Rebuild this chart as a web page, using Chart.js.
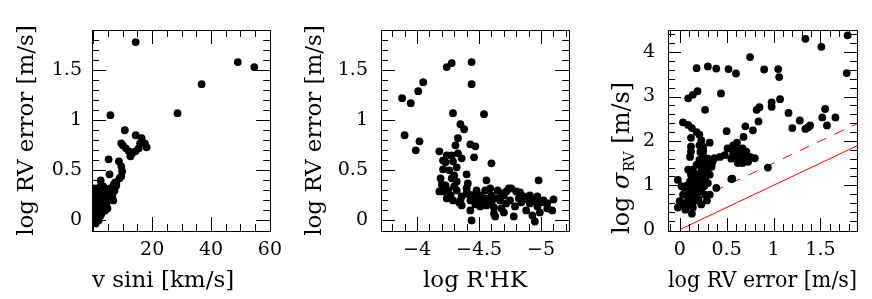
<!DOCTYPE html>
<html>
<head>
<meta charset="utf-8">
<script src="https://cdn.jsdelivr.net/npm/chart.js@4.4.1/dist/chart.umd.min.js"></script>
<style>
  body { margin: 0; background: #fff; }
  #wrap { position: relative; width: 872px; height: 299px; background: #fff; }
  canvas { position: absolute; top: 0; }
</style>
</head>
<body>
<div id="wrap">
  <canvas id="vsiniChart" width="290" height="299" style="left:0px"></canvas>
  <canvas id="rhkChart" width="290" height="299" style="left:290px"></canvas>
  <canvas id="sigmaChart" width="292" height="299" style="left:580px"></canvas>
</div>
<script>
// panel 1: v sini vs log RV error
const vsini = [14.4, 49.1, 54.7, 36.8, 28.6, 5.8, 10.7, 14.4, 16.4, 17.5, 18.1, 15.9, 15.4, 14.3, 13.2, 12.6, 12.1, 11.1, 10.0, 9.5,
  5.2, 8.7, 9.5, 9.8, 9.5, 8.9, 5.5, 2.5, 7.8,
  0.3, 0.5, 0.2, 0.6, 0.3, 0.5, 0.2, 0.7, 0.4, 0.8, 1.2, 1.5, 1.0, 1.4, 1.0, 1.5, 2.0, 2.2, 2.0, 2.5,
  2.8, 3.0, 3.2, 3.5, 3.8, 4.0, 4.3, 4.6, 4.8, 5.0, 5.5, 5.7, 6.0, 6.3, 6.8, 6.8, 7.2, 7.8, 1.8, 2.5,
  3.0, 1.0, 0.8, 1.6, 2.4, 4.0, 3.4, 7.4,
  0.1, 0.2, 0.4, 0.6, 0.9, 1.2, 1.1, 1.7, 2.3, 2.7, 3.3, 3.6, 4.2, 4.5, 5.2, 5.8, 6.5, 7.0, 1.3, 0.6,
  2.0, 3.0, 0.2, 0.1];
const rvErr1 = [1.78, 1.58, 1.53, 1.36, 1.07, 1.05, 0.90, 0.85, 0.82, 0.77, 0.73, 0.77, 0.72, 0.69, 0.67, 0.64, 0.69, 0.72, 0.75, 0.77,
  0.61, 0.59, 0.54, 0.49, 0.44, 0.42, 0.46, 0.40, 0.37,
  0.32, 0.28, 0.24, 0.20, 0.16, 0.12, 0.08, 0.04, 0.00, -0.03, 0.02, 0.06, 0.10, 0.14, 0.20, 0.25, 0.10, 0.18, 0.28, 0.22,
  0.12, 0.30, 0.20, 0.26, 0.15, 0.30, 0.22, 0.30, 0.12, 0.20, 0.27, 0.32, 0.22, 0.30, 0.34, 0.20, 0.30, 0.35, 0.00, 0.05,
  0.08, 0.30, 0.15, 0.32, 0.34, 0.10, 0.34, 0.38,
  0.00, -0.02, 0.20, 0.30, 0.25, 0.30, 0.05, 0.18, 0.12, 0.28, 0.25, 0.18, 0.26, 0.18, 0.30, 0.24, 0.26, 0.36, 0.18, 0.08,
  0.20, 0.15, 0.15, 0.28];

// panel 2: log R'HK vs log RV error
const logRhk = [-3.88, -3.95, -4.01, -4.05, -3.90, -3.99, -4.02, -4.24, -4.28, -4.44, -4.44, -4.29, -4.54, -4.35, -4.38, -4.33,
  -4.43, -4.47, -4.46, -4.60, -4.18, -4.98, -4.31, -4.24, -4.21, -4.28, -4.33, -4.29, -4.21, -4.32, -4.40, -4.19, -4.28,
  -4.41, -4.56, -4.23, -4.32, -4.21, -4.27, -4.32, -4.36, -4.40, -4.43, -4.47, -4.51, -4.55, -4.59, -4.60, -4.64, -4.68,
  -4.72, -4.76, -4.80, -4.86, -4.91, -4.97, -5.02, -5.10, -4.29, -4.43, -4.44, -4.62, -4.68, -4.78, -4.72, -4.79, -4.88,
  -4.93, -4.95, -4.91, -4.97, -5.09, -5.05, -4.56, -4.51, -4.36, -4.40, -4.58, -4.74, -4.67, -4.18, -4.24, -4.34, -4.47,
  -4.53, -4.62, -4.70, -4.84, -4.99, -5.00, -4.83, -4.26, -4.30, -4.36, -4.23, -4.42, -4.48, -4.65, -4.95,
  -4.25, -4.35, -4.45, -4.50, -4.55, -4.60, -4.70, -4.75, -4.82, -4.90, -4.97, -5.05, -4.63, -4.20, -4.30];
const rvErr2 = [1.22, 1.17, 1.29, 1.38, 0.85, 0.70, 0.79, 1.53, 1.57, 1.58, 1.36, 1.07, 1.06, 0.96, 0.91, 0.82,
  0.76, 0.74, 0.63, 0.57, 0.69, 0.40, 0.75, 0.65, 0.60, 0.65, 0.67, 0.59, 0.51, 0.53, 0.46, 0.42, 0.42,
  0.37, 0.40, 0.35, 0.39, 0.29, 0.25, 0.30, 0.24, 0.27, 0.20, 0.23, 0.25, 0.30, 0.32, 0.25, 0.22, 0.27,
  0.29, 0.32, 0.29, 0.24, 0.25, 0.24, 0.20, 0.21, 0.20, 0.10, 0.00, 0.07, 0.12, 0.04, 0.17, 0.14, 0.10,
  0.05, -0.01, 0.17, 0.14, 0.10, 0.17, 0.15, 0.14, 0.15, 0.32, 0.19, 0.32, 0.20, 0.29, 0.22, 0.18, 0.16,
  0.20, 0.13, 0.08, 0.18, 0.08, 0.18, 0.28, 0.50, 0.45, 0.62, 0.58, 0.26, 0.30, 0.30, 0.20,
  0.30, 0.20, 0.25, 0.18, 0.22, 0.18, 0.25, 0.20, 0.22, 0.20, 0.18, 0.12, 0.04, 0.36, 0.34];

// panel 3: log RV error vs log sigma_RV
const rvErr3 = [0.18, 0.30, 0.39, 0.52, 0.60, 0.75, 0.90, 1.05, 1.06, 1.34, 1.51, 1.79, 1.78, 0.09, 0.14, 0.19, 0.44, 0.27,
  0.82, 0.85, 0.98, 0.98, 1.07, 1.16, 1.28, 1.20, 1.34, 1.37, 1.39, 1.52, 1.55, 1.57, 1.66, 0.84, 0.78, 0.70, 0.50,
  0.94, 0.56, 0.32, 0.68, 0.61, 0.57, 0.39, 0.13, -0.02,
  0.035, 0.09, 0.13, 0.18, 0.21, 0.12, 0.12, 0.12, 0.11, 0.25, 0.32, 0.21, 0.23,
  0.37, 0.43, 0.48, 0.51, 0.57, 0.62, 0.67, 0.71, 0.75, 0.73, 0.67, 0.62, 0.60, 0.63, 0.80, 0.55, 0.66, 0.70,
  0.02, 0.05, 0.035, 0.00, -0.02, 0.07, 0.09, 0.12, 0.18, 0.21, 0.23, 0.23, 0.16, 0.11, 0.27, 0.04, 0.14, 0.19,
  0.14, 0.18, 0.21, 0.25, 0.28, 0.30, 0.23, 0.20, 0.27, 0.32, 0.16, 0.34, 0.35, 0.23, 0.12, 0.09,
  0.15, 0.19, 0.26, 0.30, 0.17, 0.24, 0.10, 0.06, 0.29, 0.20, 0.25, 0.14,
  0.55, 0.58, 0.64, 0.69, 0.72, 0.65, 0.60, 0.05, 0.10, 0.15, 0.08, 0.20, 0.25, 0.18, 0.28, 0.22, 0.30];
const sigmaRv = [3.64, 3.68, 3.63, 3.62, 3.52, 3.89, 3.61, 3.62, 3.44, 4.30, 4.12, 4.38, 3.53, 2.96, 3.04, 3.12, 3.07, 2.70,
  2.70, 2.76, 2.87, 2.77, 2.94, 2.63, 2.46, 2.29, 2.27, 2.31, 2.35, 2.53, 2.72, 2.35, 2.53, 2.44, 2.24, 2.33, 2.22,
  1.40, 1.15, 0.79, 2.09, 1.96, 1.90, 0.94, 0.36, 1.12,
  2.42, 2.36, 2.29, 2.20, 2.14, 2.07, 1.87, 1.76, 1.64, 1.87, 1.96, 1.90, 2.01,
  1.61, 1.64, 1.68, 1.83, 1.72, 1.79, 1.83, 1.76, 1.64, 1.53, 1.50, 1.50, 1.64, 1.60, 1.61, 1.14, 1.70, 1.55,
  0.98, 0.94, 0.79, 0.64, 0.50, 0.57, 0.72, 0.87, 0.94, 1.05, 0.87, 0.57, 0.72, 1.09, 0.79, 0.55, 0.62, 0.66,
  1.35, 1.46, 1.57, 1.68, 1.53, 1.38, 1.31, 1.20, 1.16, 1.24, 1.24, 1.42, 1.53, 1.46, 1.24, 1.35,
  1.02, 1.10, 0.98, 1.05, 1.18, 1.40, 0.80, 0.45, 0.66, 0.68, 1.78, 0.50,
  1.60, 1.75, 1.72, 1.66, 1.58, 1.55, 1.68, 0.60, 0.55, 0.80, 1.00, 0.85, 1.00, 1.25, 1.30, 1.75, 1.60];

// reference lines in panel 3 (one-to-one and offset line)
const refLineX = [0, 1.9];
const refLineY = [0, 1.9];
const refDashY = [0.5, 2.4];

// tick labels
const p1xTicks = [20, 40, 60];
const p1yTicks = [0, 0.5, 1, 1.5];
const p2xTicks = [-4, -4.5, -5];
const p2yTicks = [0, 0.5, 1, 1.5];
const p3xTicks = [0, 0.5, 1, 1.5];
const p3yTicks = [0, 1, 2, 3, 4];

const FONT = "'DejaVu Serif', 'Liberation Serif', serif";

function pts(xs, ys) {
  return xs.map((x, i) => ({x: x, y: ys[i]}));
}

function fmt(v) {
  return String(v).replace('-', '\u2212');
}

// draws the box and inward ticks on all four sides
const frameTicks = {
  id: 'frameTicks',
  afterDraw(chart, args, opts) {
    const ctx = chart.ctx;
    const a = chart.chartArea;
    ctx.save();
    ctx.strokeStyle = '#000';
    ctx.lineWidth = 1;
    ctx.strokeRect(Math.round(a.left) + 0.5, Math.round(a.top) + 0.5,
      Math.round(a.right - a.left), Math.round(a.bottom - a.top));
    ctx.beginPath();
    ['x', 'y'].forEach(axis => {
      const sc = chart.scales[axis];
      const step = opts[axis + 'Minor'];
      const major = opts[axis + 'Major'];
      const lo = Math.min(sc.min, sc.max), hi = Math.max(sc.min, sc.max);
      for (let k = Math.ceil(lo / step - 1e-9); k * step <= hi + 1e-9; k++) {
        const v = k * step;
        const isMajor = Math.abs(v / major - Math.round(v / major)) < 1e-6;
        const len = isMajor ? opts.majorLen : opts.minorLen;
        const p = Math.round(sc.getPixelForValue(v)) + 0.5;
        if (axis === 'x') {
          if (p <= a.left + 1 || p >= a.right - 1) continue;
          ctx.moveTo(p, a.bottom); ctx.lineTo(p, a.bottom - len);
          ctx.moveTo(p, a.top); ctx.lineTo(p, a.top + len);
        } else {
          if (p <= a.top + 1 || p >= a.bottom - 1) continue;
          ctx.moveTo(a.left, p); ctx.lineTo(a.left + len, p);
          ctx.moveTo(a.right, p); ctx.lineTo(a.right - len, p);
        }
      }
    });
    ctx.stroke();
    ctx.restore();
  }
};

// y title with subscript for the third panel
const sigmaTitle = {
  id: 'sigmaTitle',
  afterDraw(chart, args, opts) {
    if (!opts.draw) return;
    const ctx = chart.ctx;
    ctx.save();
    ctx.translate(opts.x, opts.y);
    ctx.rotate(-Math.PI / 2);
    ctx.fillStyle = '#000';
    ctx.textBaseline = 'middle';
    ctx.textAlign = 'left';
    let x = 0;
    ctx.font = '24px ' + FONT;
    ctx.fillText('log ', x, 0);
    x += ctx.measureText('log ').width;
    ctx.font = 'italic 24px ' + FONT;
    ctx.fillText('\u03c3', x, 0);
    x += ctx.measureText('\u03c3').width + 1;
    ctx.font = '14px ' + FONT;
    ctx.fillText('RV', x, 7);
    x += ctx.measureText('RV').width;
    ctx.font = '24px ' + FONT;
    ctx.fillText(' [m/s]', x, 0);
    ctx.restore();
  }
};

function makePanel(id, cfg) {
  const ctx = document.getElementById(id);
  const datasets = [{
    label: 'stars',
    data: cfg.points,
    backgroundColor: '#000',
    borderWidth: 0,
    pointRadius: 3.9,
    pointHoverRadius: 3.9
  }];
  (cfg.lines || []).forEach(l => datasets.push(l));

  return new Chart(ctx, {
    type: 'scatter',
    data: { datasets: datasets },
    plugins: [frameTicks, sigmaTitle],
    options: {
      responsive: false,
      animation: false,
      devicePixelRatio: 1,
      layout: { padding: { top: 30, right: cfg.padRight, bottom: 0, left: 0 } },
      plugins: {
        legend: { display: false },
        tooltip: { enabled: false },
        frameTicks: cfg.ticks,
        sigmaTitle: cfg.sigmaTitle || { draw: false }
      },
      scales: {
        x: {
          type: 'linear',
          min: cfg.xMin,
          max: cfg.xMax,
          reverse: !!cfg.xReverse,
          grid: { display: false, drawTicks: false },
          border: { display: false },
          afterFit: s => { s.height = 68; },
          afterBuildTicks: s => { s.ticks = cfg.xTicks.map(v => ({value: v})); },
          ticks: {
            color: '#000',
            padding: 8,
            maxRotation: 0,
            autoSkip: false,
            font: { family: FONT, size: 19 },
            callback: v => fmt(v)
          },
          title: {
            display: true,
            text: cfg.xTitle,
            align: cfg.xTitleAlign || 'center',
            color: '#000',
            font: { family: FONT, size: 23 },
            padding: { top: 0, bottom: 4 }
          }
        },
        y: {
          type: 'linear',
          min: cfg.yMin,
          max: cfg.yMax,
          grid: { display: false, drawTicks: false },
          border: { display: false },
          afterFit: s => { s.width = cfg.yWidth; },
          afterBuildTicks: s => { s.ticks = cfg.yTicks.map(v => ({value: v})); },
          ticks: {
            color: '#000',
            padding: cfg.yPad,
            autoSkip: false,
            font: { family: FONT, size: 19 },
            callback: v => fmt(v)
          },
          title: {
            display: cfg.yTitle !== null,
            text: cfg.yTitle || '',
            color: '#000',
            font: { family: FONT, size: 23 },
            padding: { top: cfg.yTitlePad, bottom: 0 }
          }
        }
      }
    }
  });
}

function main() {
  makePanel('vsiniChart', {
    points: pts(vsini, rvErr1),
    xMin: -0.45, xMax: 60.1, yMin: -0.105, yMax: 1.9,
    xTicks: p1xTicks, yTicks: p1yTicks,
    xTitle: 'v sini [km/s]', xTitleAlign: 'start',
    yTitle: 'log RV error [m/s]',
    yWidth: 92, yPad: 10, yTitlePad: 13, padRight: 10,
    ticks: { xMinor: 5, xMajor: 20, yMinor: 0.1, yMajor: 0.5, majorLen: 14, minorLen: 7 }
  });

  makePanel('rhkChart', {
    points: pts(logRhk, rvErr2),
    xMin: -5.225, xMax: -3.71, xReverse: true, yMin: -0.105, yMax: 1.9,
    xTicks: p2xTicks, yTicks: p2yTicks,
    xTitle: "log R'HK",
    yTitle: 'log RV error [m/s]',
    yWidth: 91, yPad: 13, yTitlePad: 11, padRight: 11,
    ticks: { xMinor: 0.1, xMajor: 0.5, yMinor: 0.1, yMajor: 0.5, majorLen: 14, minorLen: 7 }
  });

  makePanel('sigmaChart', {
    points: pts(rvErr3, sigmaRv),
    lines: [
      {
        type: 'line', label: 'one-to-one', data: pts(refLineX, refLineY),
        borderColor: '#ff0000', borderWidth: 1, pointRadius: 0, fill: false
      },
      {
        type: 'line', label: 'offset', data: pts(refLineX, refDashY),
        borderColor: '#ff0000', borderWidth: 1, borderDash: [10, 9], pointRadius: 0, fill: false
      }
    ],
    xMin: -0.125, xMax: 1.89, yMin: -0.03, yMax: 4.5,
    xTicks: p3xTicks, yTicks: p3yTicks,
    xTitle: 'log RV error [m/s]',
    yTitle: null,
    yWidth: 88, yPad: 13, yTitlePad: 0, padRight: 15,
    ticks: { xMinor: 0.1, xMajor: 0.5, yMinor: 0.2, yMajor: 1, majorLen: 13, minorLen: 7 },
    sigmaTitle: { draw: true, x: 43, y: 234 }
  });
}

document.addEventListener('DOMContentLoaded', function() {
  main();
});
</script>
</body>
</html>
